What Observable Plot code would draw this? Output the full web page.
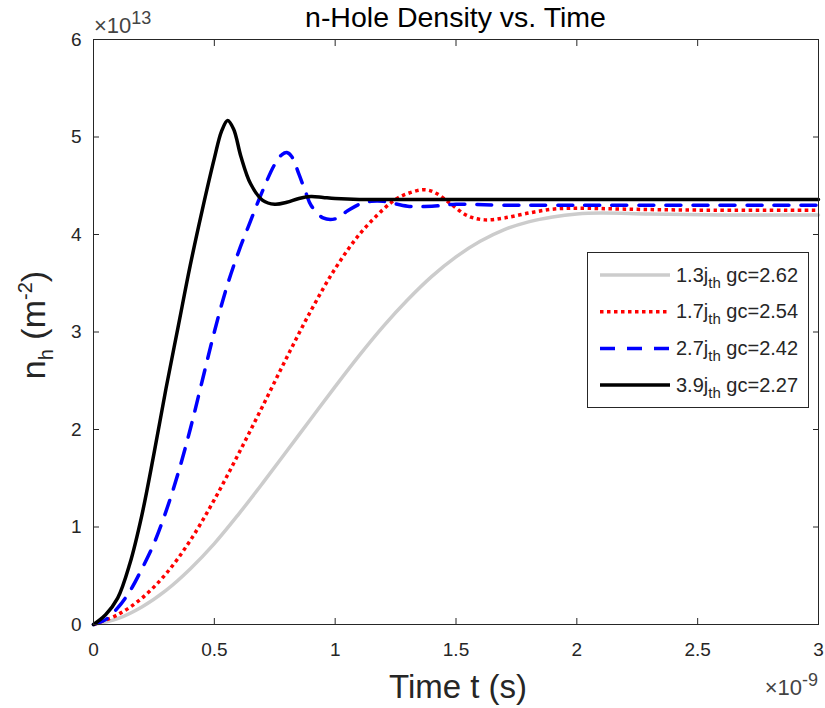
<!DOCTYPE html>
<html><head><meta charset="utf-8">
<script src="https://cdn.jsdelivr.net/npm/d3@7"></script>
<script src="https://cdn.jsdelivr.net/npm/@observablehq/plot@0.6"></script>
<style>
body{margin:0;background:#fff;}
#chart{position:relative;width:825px;height:708px;}
</style>
</head><body><div id="chart"></div>
<script>
// tick values
const xTicks = [0, 0.5, 1, 1.5, 2, 2.5, 3];
const yTicks = [0, 1, 2, 3, 4, 5, 6];

// time (×1e-9 s) and hole density (×1e13 m^-2) per series
const t13 = [0,0.1,0.2,0.3,0.4,0.5,0.6,0.7,0.8,0.9,1.0,1.1,1.2,1.3,1.4,1.5,1.6,1.7,1.8,1.9,2.0,2.1,2.3,2.6,3.0];
const n13 = [0,0.06,0.18,0.35,0.57,0.83,1.13,1.45,1.78,2.11,2.44,2.76,3.06,3.33,3.57,3.77,3.93,4.05,4.13,4.18,4.21,4.22,4.21,4.2,4.2];

const t17 = [0,0.1,0.2,0.3,0.4,0.5,0.6,0.7,0.8,0.9,1.0,1.1,1.2,1.25,1.3,1.37,1.42,1.48,1.55,1.62,1.7,1.8,1.9,2.0,2.2,2.5,3.0];
const n17 = [0,0.1,0.27,0.52,0.86,1.28,1.75,2.24,2.74,3.22,3.65,4.0,4.26,4.36,4.42,4.46,4.42,4.31,4.19,4.15,4.17,4.22,4.26,4.27,4.26,4.25,4.25];

const t27 = [0,0.05,0.1,0.15,0.2,0.25,0.3,0.35,0.4,0.45,0.5,0.55,0.6,0.65,0.7,0.75,0.78,0.8,0.82,0.85,0.88,0.9,0.95,1.0,1.05,1.1,1.15,1.2,1.3,1.4,1.5,1.7,2.0,3.0];
const n27 = [0,0.05,0.17,0.34,0.57,0.83,1.16,1.55,2.0,2.5,3.0,3.45,3.82,4.14,4.45,4.72,4.82,4.84,4.8,4.62,4.42,4.3,4.17,4.16,4.24,4.31,4.34,4.34,4.29,4.29,4.31,4.30,4.30,4.30];

const t39 = [0,0.05,0.1,0.15,0.2,0.25,0.3,0.35,0.4,0.45,0.5,0.53,0.555,0.58,0.61,0.65,0.7,0.75,0.8,0.85,0.9,0.95,1.0,1.1,1.3,3.0];
const n39 = [0,0.1,0.27,0.62,1.12,1.75,2.42,3.05,3.68,4.25,4.78,5.06,5.17,5.08,4.8,4.52,4.35,4.31,4.33,4.37,4.39,4.38,4.37,4.36,4.36,4.36];

// series descriptors
const currents = ["1.3", "1.7", "2.7", "3.9"];
const gcValues = ["2.62", "2.54", "2.42", "2.27"];
const colors = ["#cccccc", "#ff0000", "#0000ff", "#000000"];
const dashes = [null, "3.5,3.5", "15,12", null];
const widths = [3.5, 3.5, 3.5, 3.5];

const times = [t13, t17, t27, t39];
const vals = [n13, n17, n27, n39];

const font = "'Liberation Sans', Arial, Helvetica, sans-serif";
const axisColor = "#262626";

const lineMarks = currents.map((c, i) =>
  Plot.line(times[i].map((t, j) => ({t, n: vals[i][j]})), {
    x: "t", y: "n", stroke: colors[i], strokeWidth: widths[i],
    strokeDasharray: dashes[i] || undefined, curve: "catmull-rom",
    strokeLinecap: dashes[i] === "3.5,3.5" ? "butt" : "round"
  })
);

const plot = Plot.plot({
  width: 825, height: 708,
  marginLeft: 93, marginRight: 7, marginTop: 39, marginBottom: 84,
  x: {domain: [0, 3]},
  y: {domain: [0, 6]},
  style: {fontFamily: font, fontSize: "19px", color: axisColor, background: "#fff"},
  marks: [
    ...lineMarks,
    Plot.frame({stroke: axisColor, strokeWidth: 1}),
    // inward ticks on all four sides
    Plot.axisX(xTicks, {anchor: "bottom", tickSize: 6, dy: -6, tickFormat: () => "", label: null, stroke: axisColor}),
    Plot.axisX(xTicks, {anchor: "top", tickSize: 6, dy: 6, tickFormat: () => "", label: null, stroke: axisColor}),
    Plot.axisY(yTicks, {anchor: "left", tickSize: 6, dx: 6, tickFormat: () => "", label: null, stroke: axisColor}),
    Plot.axisY(yTicks, {anchor: "right", tickSize: 6, dx: -6, tickFormat: () => "", label: null, stroke: axisColor}),
    // tick labels
    Plot.axisX(xTicks, {anchor: "bottom", tickSize: 0, tickPadding: 18, tickFormat: d => String(d), label: null, fill: axisColor}),
    Plot.axisY(yTicks, {anchor: "left", tickSize: 0, tickPadding: 12, tickFormat: d => String(d), label: null, fill: axisColor})
  ]
});

document.getElementById("chart").appendChild(plot);
const svg = d3.select(plot);

// title
svg.append("text").attr("x", 455.5).attr("y", 26.5).attr("text-anchor", "middle")
  .style("font-family", font).style("font-size", "28.5px").attr("fill", "#000")
  .text("n-Hole Density vs. Time");

// x label
svg.append("text").attr("x", 458).attr("y", 698).attr("text-anchor", "middle")
  .style("font-family", font).style("font-size", "33px").attr("fill", axisColor)
  .text("Time t (s)");

// y label
const yl = svg.append("text").attr("transform", "translate(45,325) rotate(-90)")
  .attr("text-anchor", "middle").style("font-family", font).style("font-size", "34px").attr("fill", axisColor);
yl.append("tspan").text("n");
yl.append("tspan").attr("dy", 8).style("font-size", "20px").text("h");
yl.append("tspan").attr("dy", -8).text(" (m");
yl.append("tspan").attr("dy", -13).style("font-size", "20px").text("-2");
yl.append("tspan").attr("dy", 13).text(")");

// exponent labels
const e1 = svg.append("text").attr("x", 94).attr("y", 33).attr("text-anchor", "start")
  .style("font-family", font).style("font-size", "22px").attr("fill", "#444");
e1.append("tspan").text("×10");
e1.append("tspan").attr("dy", -9).style("font-size", "18px").text("13");

const e2 = svg.append("text").attr("x", 818).attr("y", 695).attr("text-anchor", "end")
  .style("font-family", font).style("font-size", "22px").attr("fill", "#444");
e2.append("tspan").text("×10");
e2.append("tspan").attr("dy", -9).style("font-size", "18px").text("-9");

// legend
const lg = svg.append("g");
lg.append("rect").attr("x", 587.5).attr("y", 252.5).attr("width", 221).attr("height", 155)
  .attr("fill", "#fff").attr("stroke", axisColor).attr("stroke-width", 1);
currents.forEach((c, i) => {
  const yy = 275 + i * 36.7;
  const ln = lg.append("line").attr("x1", 600).attr("x2", 670).attr("y1", yy).attr("y2", yy)
    .attr("stroke", colors[i]).attr("stroke-width", widths[i]);
  if (dashes[i]) ln.attr("stroke-dasharray", dashes[i]);
  const tx = lg.append("text").attr("x", 676).attr("y", yy + 6.5).attr("text-anchor", "start")
    .style("font-family", font).style("font-size", "20px").attr("fill", axisColor);
  tx.append("tspan").text(c + "j");
  tx.append("tspan").attr("dy", 6).style("font-size", "15px").text("th");
  tx.append("tspan").attr("dy", -6).text(" gc=" + gcValues[i]);
});
</script>
</body></html>
